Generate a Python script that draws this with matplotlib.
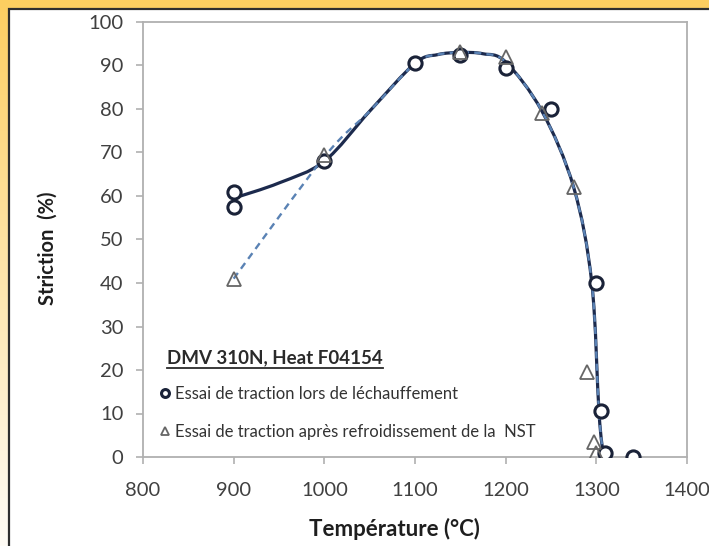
import matplotlib
import numpy as np

matplotlib.use("Agg")
import matplotlib.pyplot as plt
from matplotlib.lines import Line2D
from matplotlib.patches import PathPatch, Rectangle
from matplotlib.path import Path
from matplotlib.transforms import IdentityTransform

# essai lors de l'échauffement (cercles)
heat_temp = [900, 900, 1000, 1100, 1150, 1200, 1250, 1300, 1305, 1310, 1340]
heat_strict = [61, 57.5, 68, 90.5, 92.5, 89.5, 80, 40, 10.5, 1, 0]

# essai après refroidissement de la NST (triangles)
cool_temp = [900, 1000, 1150, 1200, 1240, 1275, 1290, 1297, 1300]
cool_strict = [41, 69.5, 93, 92, 79, 62, 19.5, 3.5, 1]

# smoothed trend curves, knots
heat_fit_temp = [900, 950, 1000, 1050, 1100, 1125, 1150, 1175, 1200, 1240, 1275, 1295, 1303, 1308]
heat_fit = [59.5, 63, 68, 79.5, 90.5, 92.5, 93, 92.7, 90.8, 79.5, 62, 40, 10, 0]
cool_fit_temp = [900, 1000, 1050, 1100, 1125, 1150, 1175, 1200, 1240, 1275, 1295, 1303, 1308]
cool_fit = [41, 69, 79.5, 90.5, 92.5, 93, 92.7, 90.8, 79.5, 62, 40, 10, 0]

x_ticks = [800, 900, 1000, 1100, 1200, 1300, 1400]
y_ticks = [0, 10, 20, 30, 40, 50, 60, 70, 80, 90, 100]

title_text = "DMV 310N, Heat F04154"
heat_label = "Essai de traction lors de léchauffement"
cool_label = "Essai de traction après refroidissement de la  NST"

plt.rcParams["font.family"] = ["Lato", "DejaVu Sans"]


def smooth_path(xs, ys):
    # Catmull-Rom through the knots, as cubic Bezier segments
    pts = np.column_stack([xs, ys]).astype(float)
    padded = np.vstack([pts[0], pts, pts[-1]])
    verts = [pts[0]]
    codes = [Path.MOVETO]
    for i in range(len(pts) - 1):
        p0, p1, p2, p3 = padded[i], padded[i + 1], padded[i + 2], padded[i + 3]
        verts += [p1 + (p2 - p0) / 6.0, p2 - (p3 - p1) / 6.0, p2]
        codes += [Path.CURVE4] * 3
    return Path(verts, codes)


W, H, DPI = 709, 546, 100
fig = plt.figure(figsize=(W / DPI, H / DPI), dpi=DPI)

# orange/yellow frame behind the white chart area
bg = fig.add_axes([0, 0, 1, 1])
bg.axis("off")
t = np.linspace(0, 1, H)[:, None, None]
top_col = np.array([252, 206, 96]) / 255
bot_col = np.array([255, 252, 246]) / 255
grad = top_col * (1 - t) + bot_col * t
grad = np.repeat(grad, W, axis=1)
bg.imshow(grad, aspect="auto", extent=[0, 1, 0, 1], transform=bg.transAxes)
bg.add_patch(
    Rectangle(
        (9 / W, -0.05), 1.1, 1 - 9 / H + 0.05,
        transform=fig.transFigure, facecolor="white",
        edgecolor="#2e2e2e", linewidth=1.6, clip_on=False,
    )
)

ax = fig.add_axes([143 / W, 1 - 457 / H, 544 / W, 435 / H], zorder=2)
ax.set_facecolor("white")

ax.add_patch(PathPatch(smooth_path(heat_fit_temp, heat_fit), fill=False,
                       edgecolor="#1c2a4d", linewidth=2.3, zorder=3))
ax.add_patch(PathPatch(smooth_path(cool_fit_temp, cool_fit), fill=False,
                       edgecolor="#5a82b4", linewidth=1.7,
                       linestyle=(0, (3, 2.2)), zorder=3.5))

circles, = ax.plot(heat_temp, heat_strict, linestyle="none", marker="o",
                   markersize=9.5, markerfacecolor="white",
                   markeredgecolor="#1a2238", markeredgewidth=2.2, zorder=4)
triangles, = ax.plot(cool_temp, cool_strict, linestyle="none", marker="^",
                     markersize=10, markerfacecolor="none",
                     markeredgecolor="#666666", markeredgewidth=1.3, zorder=5)

ax.set_xlim(800, 1400)
ax.set_ylim(0, 100)
ax.set_xticks(x_ticks)
ax.set_yticks(y_ticks)
for side in ["left", "bottom", "top", "right"]:
    ax.spines[side].set_color("#b0b0b0")
    ax.spines[side].set_linewidth(1.3)
ax.tick_params(axis="both", direction="out", length=5, width=1.2,
               color="#b0b0b0", labelcolor="#404040", labelsize=14.5)
ax.tick_params(axis="x", pad=13)
ax.tick_params(axis="y", pad=9)

ax.set_xlabel("Température (°C)", fontsize=16, fontweight="bold", color="#1e1e1e")
ax.set_ylabel("Striction  (%)", fontsize=14.5, fontweight="bold", color="#1e1e1e")
ax.xaxis.set_label_coords((394 - 143) / 544, (457 - 518) / 435)
ax.yaxis.set_label_coords((58 - 143) / 544, (457 - 248) / 435)

title = fig.text(167 / W, 1 - 358 / H, title_text, fontsize=13.5,
                 fontweight="bold", color="#2a2a2a", va="center", ha="left")

leg = ax.legend([circles, triangles], [heat_label, cool_label],
                loc="upper left", bbox_to_anchor=(160 / W, 1 - 386 / H),
                bbox_transform=fig.transFigure, frameon=False, fontsize=12,
                markerscale=0.6, handlelength=0.6, handletextpad=0.3,
                labelspacing=1.3, borderpad=0, borderaxespad=0)
for txt in leg.get_texts():
    txt.set_color("#333333")

# underline the title
fig.canvas.draw()
bb = title.get_window_extent()
fig.add_artist(Line2D([bb.x0, bb.x1], [bb.y0 - 1.5, bb.y0 - 1.5],
                      transform=IdentityTransform(), color="#2a2a2a",
                      linewidth=1.3, zorder=10))

fig.savefig("out.png", dpi=DPI)
